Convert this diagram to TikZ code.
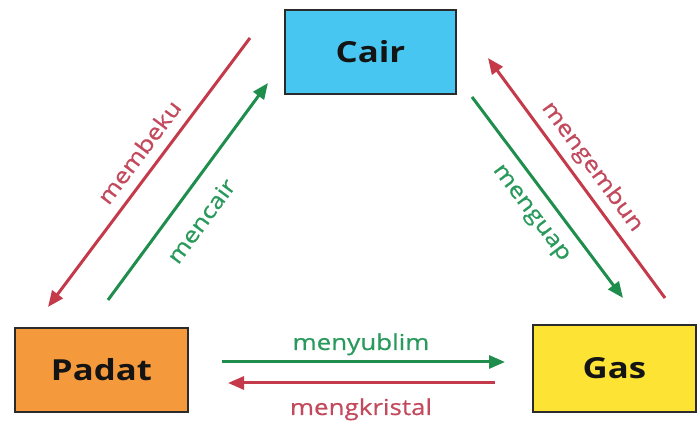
\documentclass[tikz,border=0pt]{standalone}
\usepackage{fontspec}
\setmainfont{Open Sans}[FakeStretch=1.2]
\newfontfamily\labelfont{Open Sans}[FakeStretch=1.18, FakeBold=0.6]
\usetikzlibrary{arrows.meta}
\definecolor{cairblue}{HTML}{46C6F0}
\definecolor{padatorange}{HTML}{F49A3C}
\definecolor{gasyellow}{HTML}{FDE333}
\definecolor{boxline}{HTML}{2B2B2B}
\definecolor{arrowgreen}{HTML}{1F8E4D}
\definecolor{labelgreen}{HTML}{2A9A5C}
\definecolor{arrowred}{HTML}{C43A4A}
\definecolor{labelred}{HTML}{C24A5C}
\begin{document}
\begin{tikzpicture}[x=1pt,y=1pt,
    phasebox/.style={draw=boxline, line width=2pt, inner sep=0pt,
        minimum width=171pt, minimum height=84pt,
        text=black!92, font=\fontsize{29}{34}\selectfont\bfseries},
    greenarrow/.style={draw=arrowgreen, line width=3pt,
        -{Triangle[length=16pt,width=13pt]}},
    redarrow/.style={draw=arrowred, line width=3pt,
        -{Triangle[length=16pt,width=13pt]}},
    greenlabel/.style={text=labelgreen, font=\fontsize{22}{26}\labelfont},
    redlabel/.style={text=labelred, font=\fontsize{22}{26}\labelfont}]
    \useasboundingbox (0,0) rectangle (697,423);
    % the three states
    \node[phasebox, fill=cairblue] (cair) at (370.5,371) {Cair};
    \node[phasebox, fill=padatorange, minimum width=173pt] (padat) at (101.5,53) {Padat};
    \node[phasebox, fill=gasyellow, minimum width=163pt, minimum height=87pt] (gas) at (614.5,54.5) {Gas};
    % arrow ends
    \coordinate (membekuA) at (250,385);
    \coordinate (membekuB) at (48,116);
    \coordinate (mencairA) at (108,123);
    \coordinate (mencairB) at (268,340);
    \coordinate (menguapA) at (472,326);
    \coordinate (menguapB) at (623,125);
    \coordinate (mengembunA) at (665,125);
    \coordinate (mengembunB) at (488,365);
    \coordinate (menyublimA) at (222,61);
    \coordinate (menyublimB) at (505,61);
    \coordinate (mengkristalA) at (495,40);
    \coordinate (mengkristalB) at (228,40);
    % arrows
    \draw[redarrow] (membekuA) -- (membekuB);
    \draw[greenarrow] (mencairA) -- (mencairB);
    \draw[greenarrow] (menguapA) -- (menguapB);
    \draw[redarrow] (mengembunA) -- (mengembunB);
    \draw[greenarrow] (menyublimA) -- (menyublimB);
    \draw[redarrow] (mengkristalA) -- (mengkristalB);
    % labels
    \node[redlabel, rotate=53.1] (membeku) at (139,271) {membeku};
    \node[greenlabel, rotate=53.6] (mencair) at (201,202) {mencair};
    \node[greenlabel, rotate=-53] (menguap) at (530,209) {menguap};
    \node[redlabel, rotate=-53.6] (mengembun) at (592,256) {mengembun};
    \node[greenlabel, anchor=base] (menyublim) at (361,73) {menyublim};
    \node[redlabel, anchor=base] (mengkristal) at (361,8) {mengkristal};
\end{tikzpicture}
\end{document}
